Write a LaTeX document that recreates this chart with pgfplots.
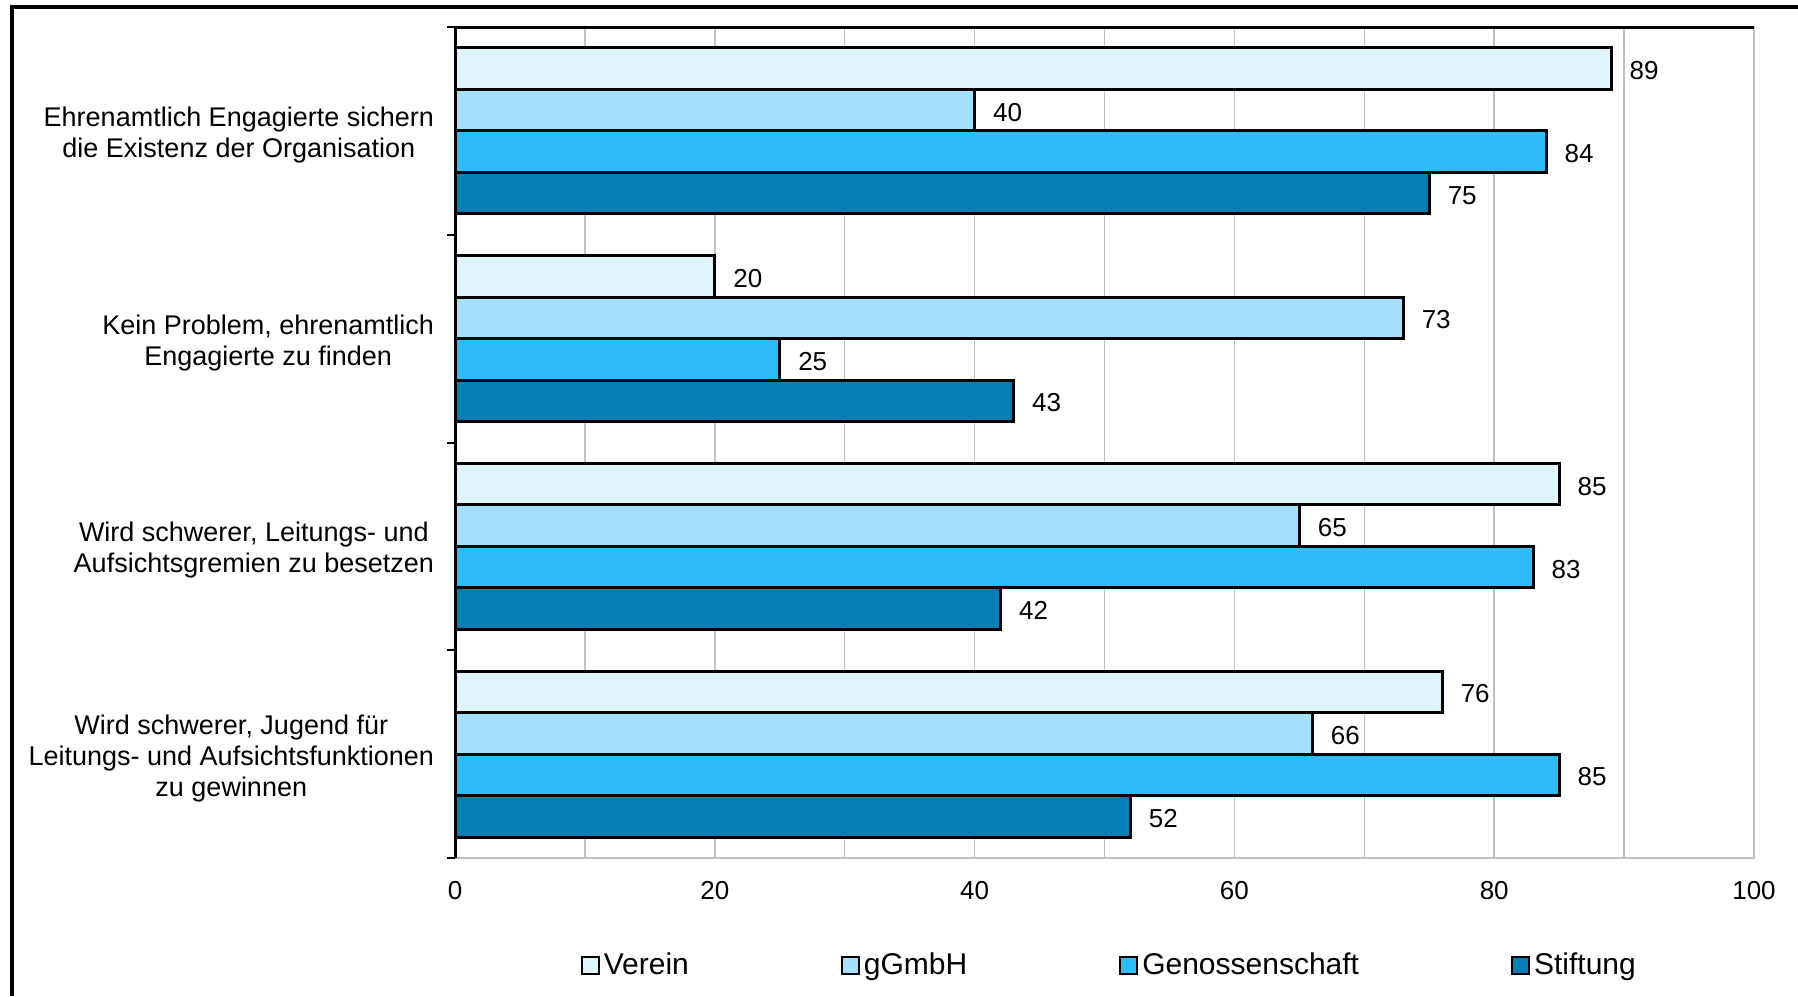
\documentclass[border=0pt]{standalone}
\usepackage{fontspec}
\setmainfont{Liberation Sans}
\usepackage{pgfplots}
\pgfplotsset{compat=1.18}
\definecolor{cVerein}{RGB}{224,244,253}
\definecolor{cGmbH}{RGB}{162,224,251}
\definecolor{cGen}{RGB}{46,188,248}
\definecolor{cStift}{RGB}{4,128,182}
\definecolor{gridgray}{RGB}{192,192,192}
\begin{document}
\begin{tikzpicture}
\useasboundingbox (0,0) rectangle (899pt,498pt);
\draw[line width=1.75pt] (6pt,0pt) -- (6pt,494.5pt) -- (899pt,494.5pt);
\begin{axis}[
  at={(227.5pt,69pt)}, anchor=south west,
  width=649.5pt, height=415.5pt, scale only axis,
  xbar, bar width=0.2,
  xmin=0, xmax=100, ymin=-0.5, ymax=3.5, y dir=reverse,
  enlargelimits=false, clip=false,
  axis line style={draw=none},
  /pgf/number format/assume math mode=true,
  xtick={0,20,...,100}, minor xtick={10,30,50,70,90},
  xmajorgrids, xminorgrids,
  major grid style={gridgray, line width=0.75pt},
  minor grid style={gridgray, line width=0.75pt},
  xtick style={draw=none}, minor tick length=0pt,
  xticklabel style={font=\fontsize{13}{15}\selectfont, yshift=-4pt},
  ytick={-0.5,0.5,1.5,2.5,3.5}, yticklabels={},
  ytick style={black, line width=1pt},
  major tick length=4pt, tick align=outside,
  ytick pos=left, xtick pos=bottom,
  extra y ticks={0,1,2,3},
  extra y tick labels={{Ehrenamtlich Engagierte sichern\\die Existenz der Organisation},{Kein Problem, ehrenamtlich\\Engagierte zu finden},{Wird schwerer, Leitungs- und\\Aufsichtsgremien zu besetzen},{Wird schwerer, Jugend für\\Leitungs- und Aufsichtsfunktionen\\zu gewinnen}},
  extra y tick style={major tick length=0pt, grid=none},
  yticklabel style={font=\fontsize{13.5}{15.5}\selectfont, align=center, xshift=-7pt, yshift=-2pt},
  point meta=x,
  nodes near coords, nodes near coords align={horizontal},
  every node near coord/.append style={anchor=west, inner xsep=0pt, xshift=8.5pt, yshift=-1pt, font=\fontsize{13}{15}\selectfont, black},
  legend columns=-1,
  legend style={at={(0.5045,-0.1288)}, anchor=center, draw=none, fill=none,
    font=\fontsize{15}{18}\selectfont,
    /tikz/every even column/.append style={column sep=74pt}},
  legend image code/.code={\draw[#1, line width=1pt, draw=black] (0pt,-4.25pt) rectangle (8.5pt,4.25pt);},
]
\addplot[fill=cVerein, draw=black, line width=1.5pt, bar shift=-0.3] coordinates {(89,0) (20,1) (85,2) (76,3)};
\addplot[fill=cGmbH, draw=black, line width=1.5pt, bar shift=-0.1] coordinates {(40,0) (73,1) (65,2) (66,3)};
\addplot[fill=cGen, draw=black, line width=1.5pt, bar shift=0.1] coordinates {(84,0) (25,1) (83,2) (85,3)};
\addplot[fill=cStift, draw=black, line width=1.5pt, bar shift=0.3] coordinates {(75,0) (43,1) (42,2) (52,3)};
\legend{Verein,gGmbH,Genossenschaft,Stiftung}
\draw[gridgray, line width=1.3pt] (axis description cs:0,0) -- (axis description cs:1,0) -- (axis description cs:1,1);
\draw[black, line width=1.5pt] (axis description cs:1,1) -- (axis description cs:0,1) -- (axis description cs:0,0);
\end{axis}
\end{tikzpicture}
\end{document}
